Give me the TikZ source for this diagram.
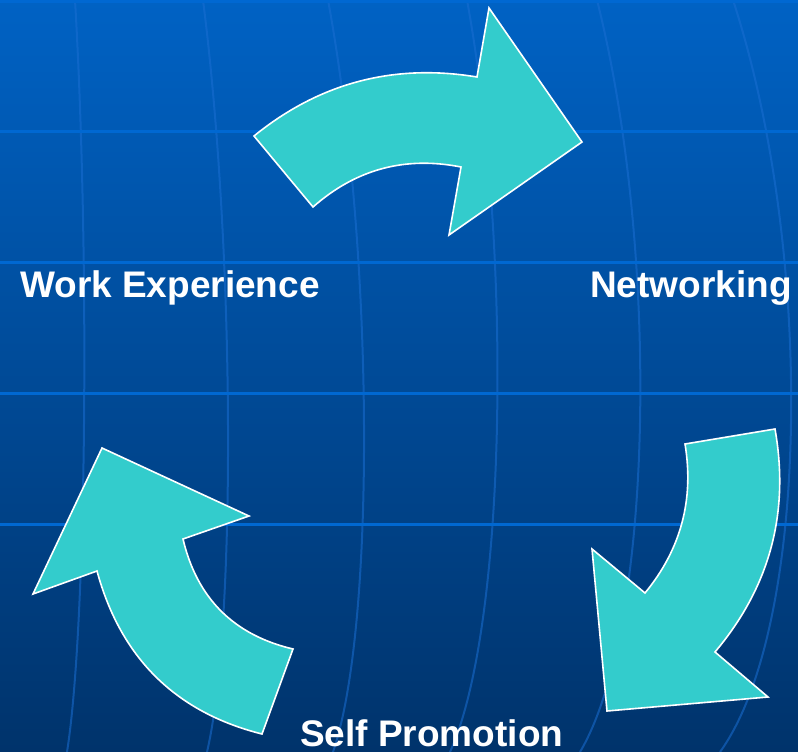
\documentclass[tikz,border=0pt]{standalone}
\usepackage{fontspec}
\setmainfont{Liberation Sans}
\definecolor{bgtop}{HTML}{0062C4}
\definecolor{bgbot}{HTML}{00336B}
\definecolor{hline}{HTML}{0068D2}
\definecolor{vline}{HTML}{1A6ED2}
\definecolor{arrowfill}{HTML}{33CCCC}
\tikzset{
  gridh/.style={hline, line width=3pt},
  gridv/.style={vline, line width=2pt, opacity=0.55},
  cyclearrow/.style={fill=arrowfill, draw=white, line width=1.6pt, line join=miter},
  label/.style={text=white, font=\bfseries\fontsize{37}{40}\selectfont, inner sep=0pt, anchor=base west}
}
\begin{document}
\begin{tikzpicture}[x=1pt,y=-1pt]
\useasboundingbox (0,0) rectangle (798,752);
\shade[top color=bgtop, bottom color=bgbot] (0,0) rectangle (798,752);
% curved vertical grid lines
\draw[gridv] (75,0) .. controls (89.7,250.7) and (87,626.7) .. (67,752);
\draw[gridv] (203,0) .. controls (235,250.7) and (236.3,626.7) .. (207,752);
\draw[gridv] (328,0) .. controls (374.3,250.7) and (376,626.7) .. (333,752);
\draw[gridv] (467,0) .. controls (512.7,250.7) and (507,626.7) .. (450,752);
\draw[gridv] (597,0) .. controls (660,250.7) and (654.3,626.7) .. (580,752);
\draw[gridv] (733,0) .. controls (814.7,250.7) and (810.3,626.7) .. (720,752);
% horizontal grid lines
\foreach \yy in {2,131,262,393,524} {
  \draw[gridh] (0,\yy) -- (798,\yy);
}
% top arrow (Work Experience -> Networking)
\draw[cyclearrow] (254,136) .. controls (319.4,82.9) and (393.7,63.2) .. (477,77)
  -- (489,8) -- (582,142) -- (449,235) -- (461,167)
  .. controls (405,155.9) and (355.7,169.3) .. (313,207) -- cycle;
% right arrow (Networking -> Self Promotion)
\draw[cyclearrow] (775,429) .. controls (789.8,512.7) and (769.8,587) .. (715,652)
  -- (768,697) -- (607,711) -- (592,549) -- (645,593)
  .. controls (680.9,549.3) and (694.2,499.7) .. (685,444) -- cycle;
% left arrow (Self Promotion -> Work Experience)
\draw[cyclearrow] (262,734) .. controls (175.7,712.3) and (120.7,658) .. (97,571)
  -- (33,594) -- (102,448) -- (249,516) -- (183,539)
  .. controls (197,598.3) and (233.7,635) .. (293,649) -- cycle;
% labels
\node[label] (work) at (20,297) {Work Experience};
\node[label] (net) at (590,297) {Networking};
\node[label] (self) at (300,746.5) {Self Promotion};
\end{tikzpicture}
\end{document}
